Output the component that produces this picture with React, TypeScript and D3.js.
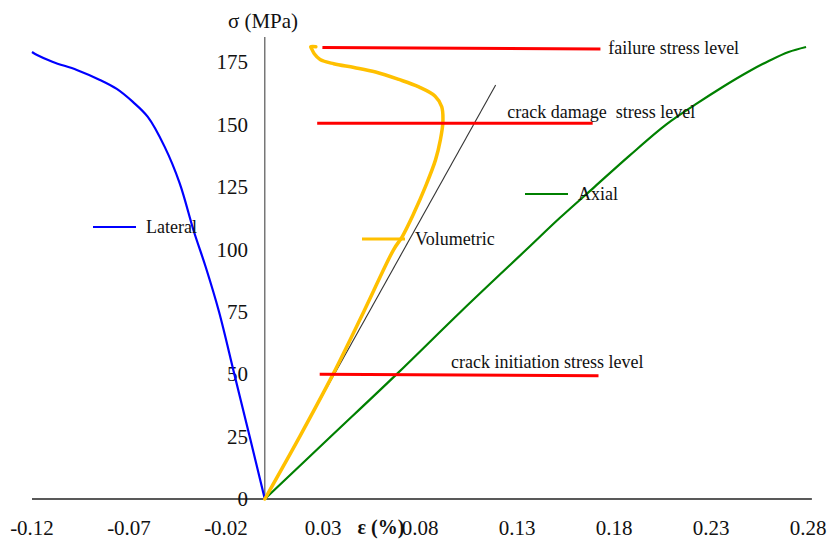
import React from "react";
import { scaleLinear, line, curveCatmullRom } from "d3";

// strain (%) / stress (MPa) pairs
const lateral: [number, number][] = [
  [0, 0], [-0.0078, 25], [-0.0157, 50], [-0.0236, 75], [-0.0305, 93],
  [-0.0365, 107], [-0.0439, 126.5], [-0.0516, 141],
  [-0.0603, 153], [-0.068, 159], [-0.0763, 164.2], [-0.085, 167.8],
  [-0.0969, 171.8], [-0.1092, 175], [-0.1174, 177.8], [-0.12, 179],
];

const axial: [number, number][] = [
  [0, 0], [0.034, 25], [0.068, 50], [0.101, 75], [0.135, 100],
  [0.152, 112.5], [0.17, 125], [0.188, 137.5], [0.207, 150], [0.222, 158],
  [0.236, 165], [0.249, 171], [0.26, 175.5], [0.27, 179], [0.279, 181],
];

const volumetric: [number, number][] = [
  [0, 0], [0.018, 25], [0.0352, 50], [0.051, 75], [0.0665, 100],
  [0.0708, 105], [0.0768, 114.4], [0.0828, 125.1], [0.088, 135.8],
  [0.0905, 143.8], [0.0918, 151], [0.0912, 157.1], [0.0878, 161.3],
  [0.0794, 165], [0.0691, 168], [0.0571, 171], [0.046, 172.8],
  [0.0355, 174.3], [0.0285, 176], [0.0255, 178.3], [0.0242, 180.2],
  [0.0237, 181.1], [0.0263, 181.1],
];

const tangent: [number, number][] = [[0, 0], [0.119, 165.8]];

const levelNames = ["failure stress level", "crack damage  stress level", "crack initiation stress level"];
const levelLines: [number, number][][] = [
  [[0.0297, 180.8], [0.173, 180.2]],
  [[0.027, 150.5], [0.169, 150.5]],
  [[0.0283, 50], [0.172, 49.4]],
];
// where each level label sits (strain, stress)
const levelLabelAt: [number, number][] = [[0.177, 180.8], [0.125, 155], [0.096, 55]];

const xTicks = [-0.12, -0.07, -0.02, 0.03, 0.08, 0.13, 0.18, 0.23, 0.28];
const yTicks = [0, 25, 50, 75, 100, 125, 150, 175];

const W = 831;
const H = 545;
const serif = "'Liberation Serif', 'Times New Roman', serif";

export default function App() {
  const x = scaleLinear().domain([-0.12, 0.28]).range([32, 808]);
  const y = scaleLinear().domain([0, 185]).range([499, 37]);

  const path = line<[number, number]>()
    .x((d) => x(d[0]))
    .y((d) => y(d[1]))
    .curve(curveCatmullRom.alpha(0.5));
  const straight = line<[number, number]>()
    .x((d) => x(d[0]))
    .y((d) => y(d[1]));

  const legends = [
    { name: "Lateral", color: "#0000FF", w: 2.2, x0: 93, yy: 227 },
    { name: "Volumetric", color: "#FFC000", w: 3, x0: 362, yy: 239 },
    { name: "Axial", color: "#008000", w: 2.2, x0: 525, yy: 194 },
  ];

  return (
    <svg
      width={W}
      height={H}
      style={{ position: "absolute", left: 0, top: 0, background: "#fff" }}
      fontFamily={serif}
    >
      {/* axes */}
      <line x1={x(-0.12)} x2={x(0.282)} y1={y(0)} y2={y(0)} stroke="#222" strokeWidth={1.3} />
      <line x1={x(0)} x2={x(0)} y1={y(0)} y2={y(185)} stroke="#555" strokeWidth={1.2} />
      {yTicks.map((t) => (
        <text key={t} x={248} y={y(t)} dy="0.35em" textAnchor="end" fontSize={21} fill="#111">
          {t}
        </text>
      ))}
      {xTicks.map((t) => (
        <text key={t} x={x(t)} y={535} textAnchor="middle" fontSize={21} fill="#111">
          {t.toFixed(2)}
        </text>
      ))}
      <text x={263} y={28} textAnchor="middle" fontSize={21} fill="#111">σ (MPa)</text>
      <text x={381} y={534} textAnchor="middle" fontSize={20} fontWeight="bold" fill="#111">ε (%)</text>

      {/* curves */}
      <path d={straight(tangent) || ""} fill="none" stroke="#333" strokeWidth={1.1} />
      <path d={path(axial) || ""} fill="none" stroke="#008000" strokeWidth={2.2} />
      <path d={path(lateral) || ""} fill="none" stroke="#0000FF" strokeWidth={2.2} />
      <path d={path(volumetric) || ""} fill="none" stroke="#FFC000" strokeWidth={3.5} strokeLinejoin="round" strokeLinecap="round" />

      {/* stress levels */}
      {levelLines.map((l, i) => (
        <path key={i} d={straight(l) || ""} fill="none" stroke="#FF0000" strokeWidth={3} />
      ))}
      {levelNames.map((n, i) => (
        <text key={n} x={x(levelLabelAt[i][0])} y={y(levelLabelAt[i][1])} dy="0.35em" fontSize={18} fill="#111" style={{ whiteSpace: "pre" }}>
          {n}
        </text>
      ))}

      {/* series labels */}
      {legends.map((g) => (
        <g key={g.name}>
          <line x1={g.x0} x2={g.x0 + 43} y1={g.yy} y2={g.yy} stroke={g.color} strokeWidth={g.w} />
          <text x={g.x0 + 53} y={g.yy} dy="0.35em" fontSize={18} fill="#111">{g.name}</text>
        </g>
      ))}
    </svg>
  );
}
